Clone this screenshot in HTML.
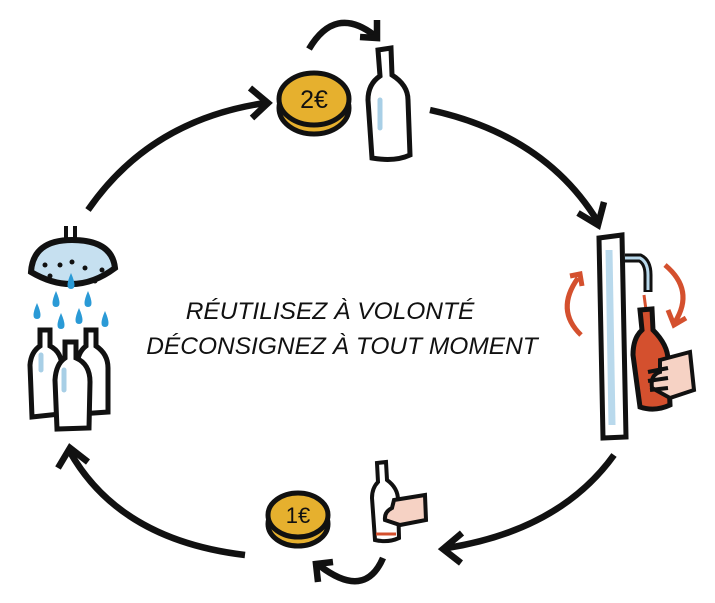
<!DOCTYPE html>
<html><head><style>
body{margin:0;background:#fff;width:715px;height:603px;overflow:hidden}
svg{position:absolute;left:0;top:0}
.t{font-family:"Liberation Sans",sans-serif;font-style:italic;font-size:24.5px;fill:#111;text-anchor:middle}
</style></head><body>
<svg width="715" height="603" viewBox="0 0 715 603">
<g fill="none" stroke="#111" stroke-width="6.5" stroke-linecap="butt">
<path d="M88 210 Q150 120 265 103"/>
<path d="M250 88 L268 103 L252 118"/>
<path d="M430 110 Q545 135 598 222"/>
<path d="M578 213 L598 225 L604 202"/>
<path d="M614 455 Q560 530 447 548"/>
<path d="M462 533 L443 549 L461 563"/>
<path d="M245 555 Q120 540 70 452"/>
<path d="M58 468 L70 448 L88 462"/>
<path d="M309 49 Q335 5 374 35"/>
<path d="M360 37 L377 38 L377 20"/>
<path d="M383 558 Q365 600 320 566"/>
<path d="M318 582 L316 564 L333 562"/>
</g>
<text class="t" x="330" y="319">RÉUTILISEZ À VOLONTÉ</text>
<text class="t" x="342" y="354">DÉCONSIGNEZ À TOUT MOMENT</text>
<g stroke="#111" stroke-width="5">
<ellipse cx="314" cy="108" rx="35" ry="26" fill="#e6b02e"/>
<ellipse cx="314" cy="99" rx="35" ry="26" fill="#e6b02e"/>
</g>
<text x="314" y="108" font-family="Liberation Sans,sans-serif" font-size="25" text-anchor="middle" fill="#111">2€</text>
<path d="M378 50 L391 48 L392 75 Q408 85 408 100 L410 155 Q395 162 372 158 L368 100 Q368 84 380 76 Z" fill="#fff" stroke="#111" stroke-width="5"/>
<path d="M380 100 L380 128" stroke="#a8cfe6" stroke-width="5" stroke-linecap="round"/>
<path d="M599 238 L622 235 L626 437 L603 438 Z" fill="#fff" stroke="#111" stroke-width="5"/>
<path d="M609 250 L612 425" stroke="#b9d9ec" stroke-width="7"/>
<path d="M625 258 L640 258 Q648 262 648 275 L648 292" fill="none" stroke="#111" stroke-width="9"/>
<path d="M625 258 L640 258 Q648 262 648 275 L648 290" fill="none" stroke="#b9d9ec" stroke-width="3"/>
<path d="M644 295 L646 310" stroke="#d4502e" stroke-width="3"/>
<path d="M640 310 L652 309 L653 330 Q668 345 668 360 L670 405 Q655 412 640 407 L633 355 Q633 338 642 330 Z" fill="#d4502e" stroke="#111" stroke-width="5"/>
<path d="M660 360 L690 352 L694 390 L670 398 L652 388 Q650 375 660 372 Z" fill="#f6d2c4" stroke="#111" stroke-width="4"/>
<path d="M648 372 L668 368 M648 381 L668 378 M650 390 L668 388" stroke="#111" stroke-width="4"/>
<g fill="none" stroke="#d4502e" stroke-width="5">
<path d="M581 335 Q555 310 578 278"/>
<path d="M570 276 L580 274 L582 286"/>
<path d="M665 265 Q695 290 675 322"/>
<path d="M668 310 L674 325 L686 318"/>
</g>
<path d="M66 226 L66 240 M75 226 L75 240" stroke="#111" stroke-width="4"/>
<path d="M31 272 Q33 240 72 240 Q112 240 115 268 Q75 298 31 272 Z" fill="#c6e0f0" stroke="#111" stroke-width="6"/>
<g fill="#111"><circle cx="60" cy="265" r="2.5"/><circle cx="85" cy="268" r="2.5"/><circle cx="50" cy="276" r="2.5"/><circle cx="95" cy="281" r="2.5"/><circle cx="72" cy="262" r="2.5"/><circle cx="102" cy="270" r="2.5"/><circle cx="45" cy="265" r="2.5"/></g>
<g fill="#2a9ad6">
<path d="M71 273 q-7 16 0 16 q7 0 0 -16z"/><path d="M56 291 q-7 16 0 16 q7 0 0 -16z"/><path d="M88 291 q-7 16 0 16 q7 0 0 -16z"/>
<path d="M37 303 q-7 16 0 16 q7 0 0 -16z"/><path d="M61 313 q-7 16 0 16 q7 0 0 -16z"/><path d="M79 308 q-7 16 0 16 q7 0 0 -16z"/><path d="M105 311 q-7 16 0 16 q7 0 0 -16z"/>
</g>
<g fill="#fff" stroke="#111" stroke-width="5">
<path d="M40 330 L50 330 L50 346 Q62 352 62 368 L60 414 L32 417 L30 365 Q31 352 40 346 Z"/>
<path d="M86 330 L96 330 L96 346 Q108 354 108 368 L108 412 L80 414 L77 365 Q78 352 86 346 Z"/>
<path d="M65 342 L76 342 L76 358 Q90 364 90 382 L89 428 L57 429 L55 380 Q56 364 65 358 Z"/>
</g>
<path d="M64 370 L64 390" stroke="#a8cfe6" stroke-width="5" stroke-linecap="round"/>
<path d="M41 355 L41 370" stroke="#a8cfe6" stroke-width="5" stroke-linecap="round"/>
<g stroke="#111" stroke-width="5">
<ellipse cx="298" cy="524" rx="30" ry="22" fill="#e6b02e"/>
<ellipse cx="298" cy="515" rx="30" ry="22" fill="#e6b02e"/>
</g>
<text x="298" y="523" font-family="Liberation Sans,sans-serif" font-size="22" text-anchor="middle" fill="#111">1€</text>
<path d="M377 463 L386 462 L387 480 Q398 488 398 500 L399 538 Q388 543 375 540 L372 498 Q372 488 378 482 Z" fill="#fff" stroke="#111" stroke-width="4"/>
<path d="M376 534 L396 534" stroke="#d4502e" stroke-width="3"/>
<path d="M394 500 L425 495 L426 520 L400 525 L385 520 Q384 512 392 508 Z" fill="#f6d2c4" stroke="#111" stroke-width="4"/>
</svg>
</body></html>
